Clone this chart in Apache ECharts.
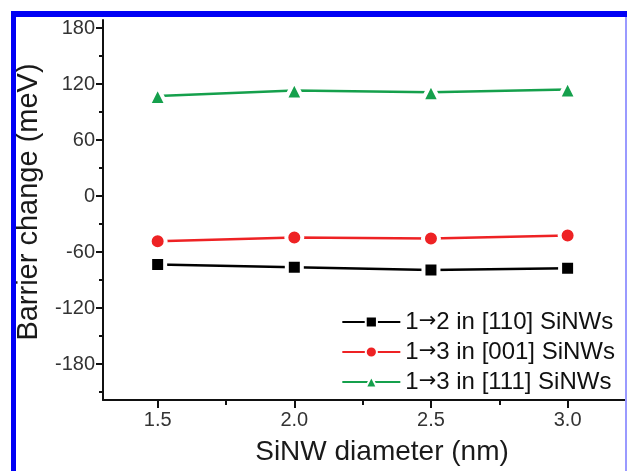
<!DOCTYPE html>
<html lang="en">
<head>
    <meta charset="UTF-8">
    <title>Barrier change vs SiNW diameter</title>
    <style>
        html, body { margin: 0; padding: 0; background: #fff; }
    </style>
</head>
<body>
<div id="main" style="width: 627px;height:471px;"></div>
<script src="https://cdn.jsdelivr.net/npm/echarts@6/dist/echarts.min.js"></script>
<script type="text/javascript">
    // data
    var diameters = [1.5, 2.0, 2.5, 3.0];
    var barrier110 = [-74, -77, -80, -78];
    var barrier001 = [-49, -45, -46, -43];
    var barrier111 = [107, 113, 111, 114];
    var seriesNames = ['1\u21922 in [110] SiNWs', '1\u21923 in [001] SiNWs', '1\u21923 in [111] SiNWs'];
    var xTicks = [1.5, 3.0];          // first / last labelled x tick, step 0.5
    var yTicks = [-180, 180];         // first / last labelled y tick, step 60
    var yMinorTicks = [-210, 180];    // minor ticks, step 30

    var FONT = '"Liberation Sans", Arial, sans-serif';

    // frame of the plot (pixels) and the value range it covers
    var frame = {left: 103, top: 20, width: 522, height: 381};
    var xRange = [1.3, 3.21];
    var yRange = [-219.6, 188.6];

    function px(v) { return frame.left + (v - xRange[0]) / (xRange[1] - xRange[0]) * frame.width; }
    function py(v) { return frame.top + (yRange[1] - v) / (yRange[1] - yRange[0]) * frame.height; }
    function gridFor(x0, x1, y0, y1) {
        return {left: px(x0), top: py(y1), width: px(x1) - px(x0), height: py(y0) - py(y1)};
    }

    function pairs(vals) {
        return diameters.map(function (d, i) { return [d, vals[i]]; });
    }

    var hidden = {show: false};
    var noZero = {show: false, onZero: false};
    var axisInk = {color: '#111', width: 2};
    var myChart = echarts.init(document.getElementById('main'));

    myChart.setOption({
        animation: false,
        backgroundColor: '#fff',
        textStyle: {fontFamily: FONT},
        graphic: [
            {type: 'rect', shape: {x: 11, y: 11, width: 616, height: 6}, style: {fill: '#0000f5'}, z: 100},
            {type: 'rect', shape: {x: 11, y: 11, width: 5, height: 460}, style: {fill: '#0000f5'}, z: 100},
            {type: 'rect', shape: {x: 625, y: 17, width: 2, height: 454}, style: {fill: '#9a9aff'}, z: 100}
        ],
        grid: [
            {left: frame.left, top: frame.top, width: frame.width, height: frame.height},
            gridFor(xTicks[0], xTicks[1], yRange[0], yRange[1]),
            gridFor(xRange[0], xRange[1], yTicks[0], yTicks[1]),
            gridFor(xRange[0], xRange[1], yMinorTicks[0], yMinorTicks[1])
        ],
        xAxis: [
            {
                gridIndex: 0, type: 'value', min: xRange[0], max: xRange[1],
                axisLine: {onZero: false, lineStyle: axisInk},
                axisTick: hidden, axisLabel: hidden, splitLine: hidden,
                name: 'SiNW diameter (nm)', nameLocation: 'middle', nameGap: 38,
                nameTextStyle: {fontSize: 28, color: '#1a1a1a', fontFamily: FONT, padding: [0, 0, 0, 36]}
            },
            {
                gridIndex: 1, type: 'value', min: xTicks[0], max: xTicks[1], interval: 0.5,
                axisLine: noZero,
                axisTick: {length: 7, lineStyle: axisInk},
                minorTick: {show: true, splitNumber: 2, length: 4, lineStyle: axisInk},
                axisLabel: {fontSize: 20, color: '#333', margin: 9, fontFamily: FONT,
                    formatter: function (v) { return v.toFixed(1); }},
                splitLine: hidden
            },
            {gridIndex: 2, type: 'value', min: xRange[0], max: xRange[1], show: false, axisLine: noZero},
            {gridIndex: 3, type: 'value', min: xRange[0], max: xRange[1], show: false, axisLine: noZero}
        ],
        yAxis: [
            {
                gridIndex: 0, type: 'value', min: yRange[0], max: yRange[1],
                axisLine: {onZero: false, lineStyle: axisInk},
                axisTick: hidden, axisLabel: hidden, splitLine: hidden,
                name: 'Barrier change (meV)', nameLocation: 'middle', nameGap: 60,
                nameTextStyle: {fontSize: 29, color: '#1a1a1a', fontFamily: FONT, padding: [0, 0, 0, 16]}
            },
            {gridIndex: 1, type: 'value', min: yRange[0], max: yRange[1], show: false, axisLine: noZero},
            {
                gridIndex: 2, type: 'value', min: yTicks[0], max: yTicks[1], interval: 60,
                axisLine: noZero,
                axisTick: {length: 7, lineStyle: axisInk},
                axisLabel: {fontSize: 20, color: '#333', margin: 8, fontFamily: FONT},
                splitLine: hidden
            },
            {
                gridIndex: 3, type: 'value', min: yMinorTicks[0], max: yMinorTicks[1], interval: 30,
                axisLine: noZero,
                axisTick: {length: 4, lineStyle: axisInk},
                axisLabel: hidden, splitLine: hidden
            }
        ],
        legend: {
            orient: 'vertical',
            right: 7,
            top: 305,
            itemWidth: 58,
            itemHeight: 14,
            itemGap: 6,
            data: seriesNames,
            formatter: function (name) {
                // wider arrow glyph, as in the original figure
                var parts = name.split('\u2192');
                return '{t|' + parts[0] + '}{a|\u2192}{t|' + parts[1] + '}';
            },
            textStyle: {
                fontSize: 24, color: '#111', fontFamily: FONT,
                rich: {
                    t: {fontSize: 24, color: '#111', fontFamily: FONT},
                    a: {fontSize: 21, color: '#111', fontFamily: '"DejaVu Sans", sans-serif'}
                }
            }
        },
        series: [
            {
                name: seriesNames[0], type: 'line', xAxisIndex: 0, yAxisIndex: 0,
                data: pairs(barrier110), symbol: 'rect', symbolSize: 15,
                lineStyle: {color: '#000', width: 2.5},
                itemStyle: {color: '#000', borderColor: '#fff', borderWidth: 4}
            },
            {
                name: seriesNames[1], type: 'line', xAxisIndex: 0, yAxisIndex: 0,
                data: pairs(barrier001), symbol: 'circle', symbolSize: 16,
                lineStyle: {color: '#ee2224', width: 2.5},
                itemStyle: {color: '#ee2224', borderColor: '#fff', borderWidth: 4}
            },
            {
                name: seriesNames[2], type: 'line', xAxisIndex: 0, yAxisIndex: 0,
                data: pairs(barrier111), symbol: 'triangle', symbolSize: 18,
                lineStyle: {color: '#15a04c', width: 2.5},
                itemStyle: {color: '#15a04c', borderColor: '#fff', borderWidth: 4}
            }
        ]
    });
</script>
</body>
</html>
